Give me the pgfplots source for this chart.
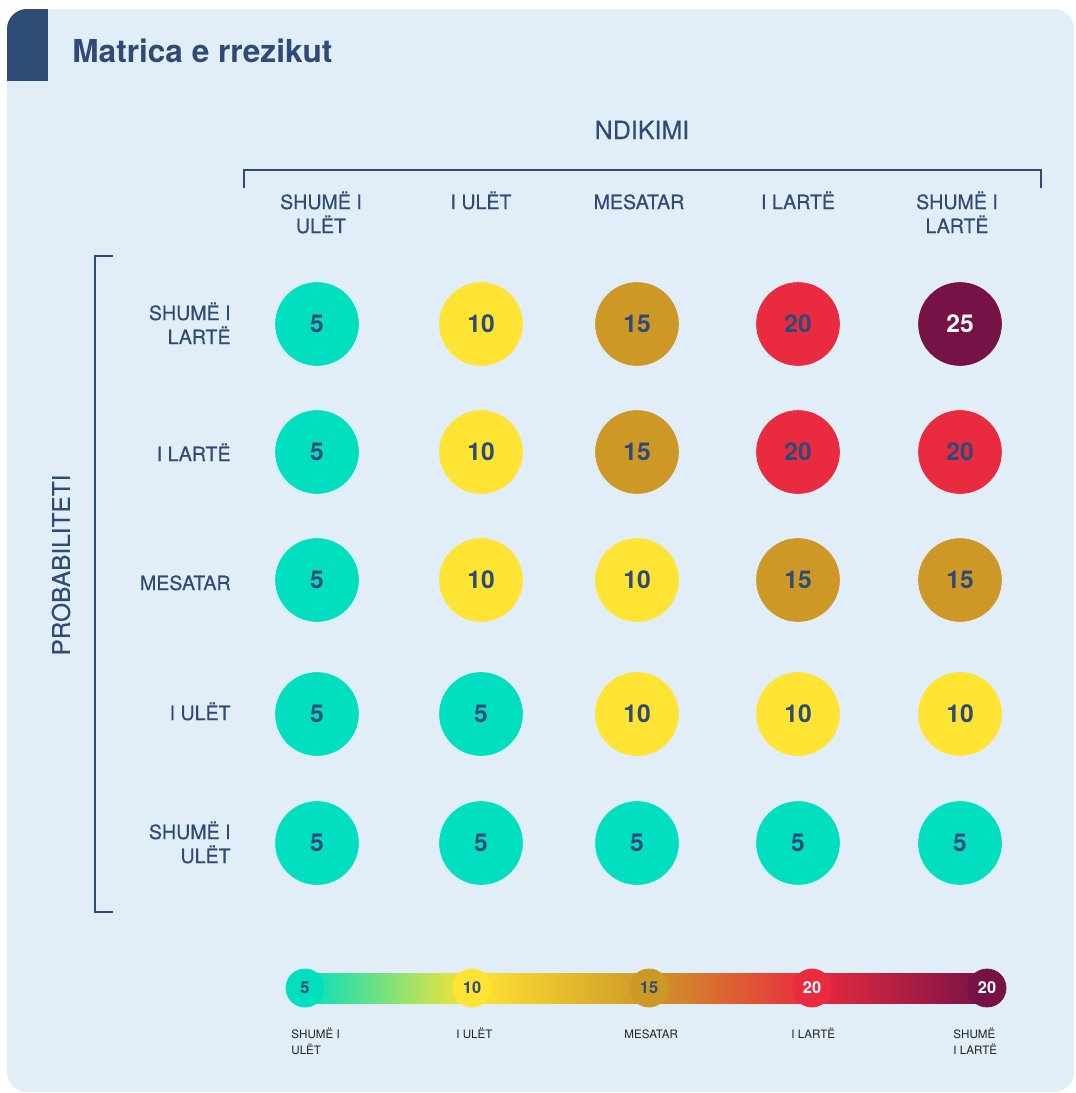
\documentclass[border=0pt]{standalone}
\usepackage{pgfplots}
\pgfplotsset{compat=1.18}
\usepackage{fontspec}
\setmainfont{TeX Gyre Heros}
\newfontface\medfont{TeX Gyre Heros}[FakeBold=0.35]
\definecolor{cteal}{HTML}{00DFBF}
\definecolor{cyellow}{HTML}{FFE433}
\definecolor{cgold}{HTML}{CE9827}
\definecolor{cred}{HTML}{EA2A3E}
\definecolor{cmaroon}{HTML}{761245}
\definecolor{cnavy}{HTML}{2E4A76}
\definecolor{cbg}{HTML}{E1EDF7}
\definecolor{clabel}{HTML}{222222}
\pgfdeclarehorizontalshading{riskbar}{100bp}{color(0bp)=(cteal); color(25bp)=(cteal); color(37.25bp)=(cyellow); color(50.2bp)=(cgold); color(62.2bp)=(cred); color(75bp)=(cmaroon); color(100bp)=(cmaroon)}
\begin{document}
\begin{tikzpicture}
\begin{axis}[scale only axis, width=538pt, height=546.5pt,
  xmin=0, xmax=1076, ymin=0, ymax=1093, y dir=reverse,
  hide axis, clip=false,
  matrixdot/.style={only marks, mark=*, mark size=20.7pt,
    nodes near coords, point meta=explicit symbolic,
    every node near coord/.append style={anchor=center, inner sep=0pt,
      font=\bfseries\fontsize{12.3}{12}\selectfont, text=cnavy}},
  legdot/.style={only marks, mark=*, mark size=9.5pt,
    nodes near coords, point meta=explicit symbolic,
    every node near coord/.append style={anchor=center, inner sep=0pt,
      font=\bfseries\fontsize{8.2}{8}\selectfont, text=cnavy}},
]
% background card
\fill[white] (axis cs:0,0) rectangle (axis cs:1076,1093);
\fill[cbg, rounded corners=10pt] (axis cs:7,9) rectangle (axis cs:1074,1092);
\begin{scope}
\clip[rounded corners=10pt] (axis cs:7,9) rectangle (axis cs:1074,1092);
\fill[cnavy] (axis cs:7,9) rectangle (axis cs:48,81);
\end{scope}
\node[anchor=base west, inner sep=0pt, text=cnavy, font=\bfseries\fontsize{15.8}{16}\selectfont] at (axis cs:72,62) {Matrica e rrezikut};

% axis titles and brackets
\node[anchor=base, inner sep=0pt, text=cnavy, font=\medfont\fontsize{12.5}{13}\selectfont] at (axis cs:642,139) {NDIKIMI};
\draw[cnavy, line width=1.3pt] (axis cs:244,188) -- (axis cs:244,170) -- (axis cs:1041,170) -- (axis cs:1041,188);
\node[rotate=90, anchor=center, inner sep=0pt, text=cnavy, font=\medfont\fontsize{12.2}{13}\selectfont] at (axis cs:61,565) {PROBABILITETI};
\draw[cnavy, line width=1.3pt] (axis cs:113,256) -- (axis cs:95,256) -- (axis cs:95,912) -- (axis cs:113,912);

% column headers
\begin{scope}[every node/.style={anchor=base, inner sep=0pt, text=cnavy, font=\medfont\fontsize{9.8}{11}\selectfont}]
\node at (axis cs:321,209) {SHUMË I};
\node at (axis cs:321,233) {ULËT};
\node at (axis cs:481,209) {I ULËT};
\node at (axis cs:639,209) {MESATAR};
\node at (axis cs:798,209) {I LARTË};
\node at (axis cs:957,209) {SHUMË I};
\node at (axis cs:957,233) {LARTË};
\end{scope}
% row labels
\begin{scope}[every node/.style={anchor=base east, inner sep=0pt, text=cnavy, font=\medfont\fontsize{9.8}{11}\selectfont}]
\node at (axis cs:231,320) {SHUMË I};
\node at (axis cs:231,344) {LARTË};
\node at (axis cs:231,461) {I LARTË};
\node at (axis cs:231,590) {MESATAR};
\node at (axis cs:231,720) {I ULËT};
\node at (axis cs:231,839) {SHUMË I};
\node at (axis cs:231,863) {ULËT};
\end{scope}

% matrix cells
\addplot[matrixdot, color=cteal] table[meta=v] {
x y v
317 324 5
317 452 5
317 580 5
317 714 5
481 714 5
317 843 5
481 843 5
637 843 5
798 843 5
960 843 5
};
\addplot[matrixdot, color=cyellow] table[meta=v] {
x y v
481 324 10
481 452 10
481 580 10
637 580 10
637 714 10
798 714 10
960 714 10
};
\addplot[matrixdot, color=cgold] table[meta=v] {
x y v
637 324 15
637 452 15
798 580 15
960 580 15
};
\addplot[matrixdot, color=cred] table[meta=v] {
x y v
798 324 20
798 452 20
960 452 20
};
\addplot[matrixdot, color=cmaroon, every node near coord/.append style={text=white}] table[meta=v] {
x y v
960 324 25
};

% legend bar
\fill[shading=riskbar] (axis cs:305,973) rectangle (axis cs:987,1003);
\addplot[legdot, color=cteal] table[meta=v] {
x y v
305 988 5
};
\addplot[legdot, color=cyellow] table[meta=v] {
x y v
472 988 10
};
\addplot[legdot, color=cgold] table[meta=v] {
x y v
649 988 15
};
\addplot[legdot, color=cred, every node near coord/.append style={text=white}] table[meta=v] {
x y v
812 988 20
};
\addplot[legdot, color=cmaroon, every node near coord/.append style={text=white}] table[meta=v] {
x y v
987 988 20
};
\begin{scope}[every node/.style={anchor=base west, inner sep=0pt, text=clabel, font=\fontsize{5.8}{7}\selectfont}]
\node at (axis cs:291,1038) {SHUMË I};
\node at (axis cs:291,1054) {ULËT};
\node at (axis cs:456,1038) {I ULËT};
\node at (axis cs:624,1038) {MESATAR};
\node at (axis cs:791,1038) {I LARTË};
\node at (axis cs:953,1038) {SHUMË};
\node at (axis cs:953,1054) {I LARTË};
\end{scope}
\end{axis}
\end{tikzpicture}
\end{document}
